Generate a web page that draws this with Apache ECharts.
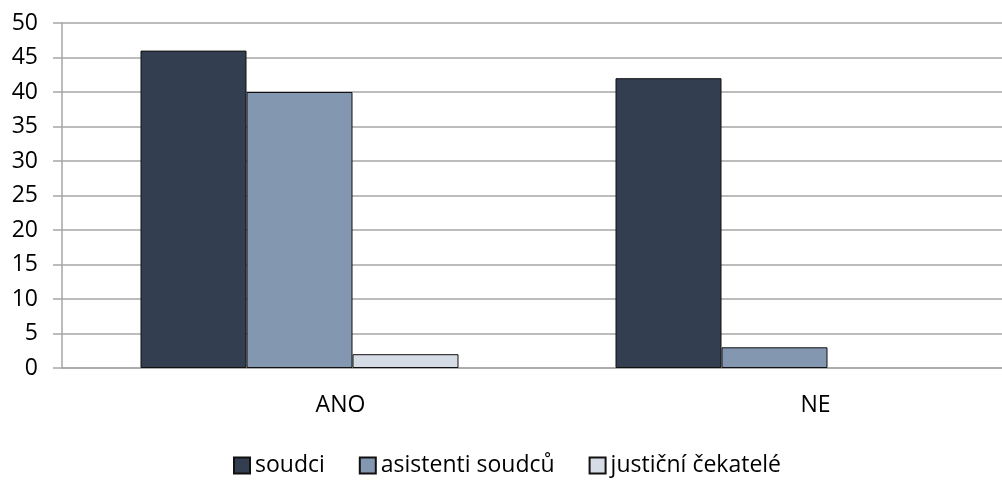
<!DOCTYPE html>
<html>
<head>
<meta charset="utf-8">
<script src="https://cdn.jsdelivr.net/npm/echarts@6/dist/echarts.min.js"></script>
<style>
  html, body { margin: 0; padding: 0; background: #fff; }
  #chart { width: 1002px; height: 488px; }
</style>
</head>
<body>
<div id="chart"></div>
<script>
const categories = ['ANO', 'NE'];
const soudci = [46, 42];
const asistenti = [40, 3];
const cekatele = [2, 0];
const seriesNames = ['soudci', 'asistenti soudců', 'justiční čekatelé'];

const chart = echarts.init(document.getElementById('chart'));
const font = 'Open Sans, Noto Sans, sans-serif';
const barStyle = (color) => ({ color: color, borderColor: '#111', borderWidth: 1 });
// zero-height bars are not outlined in the original
const toData = (arr) => arr.map(v => v === 0 ? { value: v, itemStyle: { borderWidth: 0 } } : v);

chart.setOption({
  animation: false,
  textStyle: { fontFamily: font },
  grid: { left: 62, width: 950, top: 23, bottom: 120, containLabel: false, outerBoundsMode: 'none' },
  legend: {
    bottom: 6,
    left: 228,
    itemWidth: 16,
    itemHeight: 16,
    itemGap: 34,
    icon: 'rect',
    textStyle: { fontSize: 23, color: '#000', fontFamily: font },
    data: seriesNames
  },
  xAxis: {
    type: 'category',
    data: categories,
    axisLine: { lineStyle: { color: '#a6a6a6', width: 1.5 } },
    axisTick: { show: false },
    // labels sit a bit right of the bar groups in the original
    axisLabel: { fontSize: 23, color: '#000', margin: 26, padding: [0, 0, 0, 82] }
  },
  yAxis: {
    type: 'value',
    min: 0,
    max: 50,
    interval: 5,
    axisLine: { show: true, lineStyle: { color: '#a6a6a6', width: 1.5 } },
    axisTick: { show: true, length: 9, lineStyle: { color: '#a6a6a6', width: 1.5 } },
    axisLabel: { fontSize: 23, color: '#000', margin: 24 },
    splitLine: { lineStyle: { color: '#a6a6a6', width: 1.5 } }
  },
  series: [
    { name: seriesNames[0], type: 'bar', data: toData(soudci), barWidth: 106, barGap: '0%', itemStyle: barStyle('#333f50') },
    { name: seriesNames[1], type: 'bar', data: toData(asistenti), barWidth: 106, barGap: '0%', itemStyle: barStyle('#8497b0') },
    { name: seriesNames[2], type: 'bar', data: toData(cekatele), barWidth: 106, barGap: '0%', itemStyle: barStyle('#d6dce5') }
  ]
});
</script>
</body>
</html>
